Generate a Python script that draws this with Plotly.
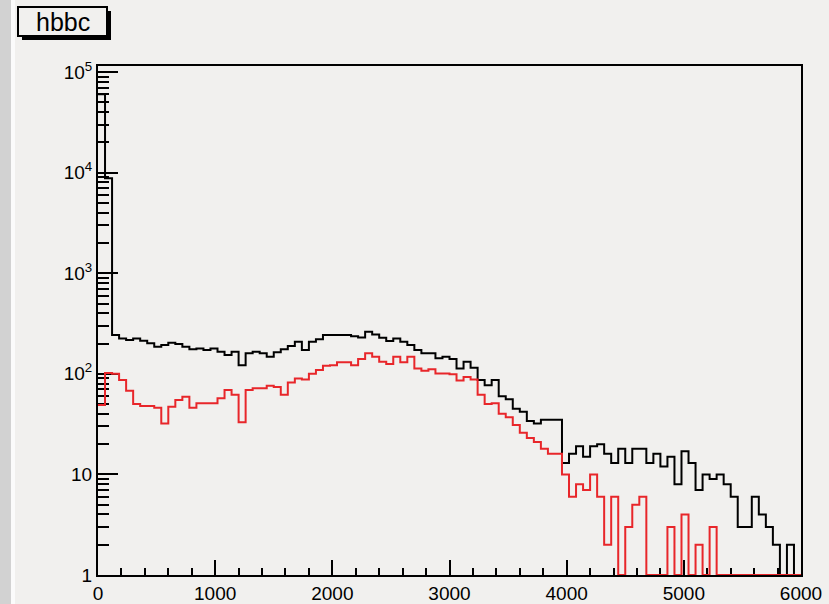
import numpy as np
import plotly.graph_objects as go

# ---------------- data ----------------
bin_low = 0
bin_high = 6000
n_bins = 100

black_counts = [
    60000, 8800, 243, 225, 217, 225, 213, 201, 186, 193,
    204, 198, 186, 175, 179, 172, 179, 166, 154, 166,
    122, 160, 166, 160, 148, 164, 175, 189, 208, 172,
    208, 220, 243, 243, 243, 243, 236, 230, 262, 246,
    228, 212, 225, 208, 193, 172, 160, 160, 143, 148,
    140, 113, 132, 115, 87, 77, 87, 60, 56, 45,
    42, 34, 32, 35, 35, 35, 13, 16, 19, 15,
    19, 20, 16, 13, 18, 13, 18, 18, 13, 16,
    12, 15, 8, 17, 13, 7, 10, 9, 10, 8,
    6, 3, 3, 6, 4, 3, 2, 0, 2, 0,
]

red_counts = [
    49, 102, 100, 87, 68, 50, 48, 48, 46, 32,
    47, 55, 59, 46, 51, 51, 51, 57, 69, 62,
    33, 69, 72, 72, 76, 74, 62, 82, 90, 88,
    100, 109, 120, 122, 130, 130, 122, 140, 160, 148,
    132, 125, 148, 130, 148, 113, 107, 111, 101, 101,
    99, 86, 93, 88, 62, 50, 51, 40, 37, 31,
    26, 23, 21, 18, 16, 16, 10, 6, 8, 7,
    10, 6, 2, 6, 0, 3, 5, 6, 0, 0,
    0, 3, 0, 4, 0, 2, 0, 3, 0, 0,
    0, 0, 0, 0, 0, 0, 0, 0, 0, 0,
]

x_tick_vals = [0, 1000, 2000, 3000, 4000, 5000, 6000]
x_tick_text = ["0", "1000", "2000", "3000", "4000", "5000", "6000"]
y_tick_vals = [1, 10, 100, 1000, 10000, 100000]
y_tick_text = ["1", "10", "10<sup>2</sup>", "10<sup>3</sup>", "10<sup>4</sup>", "10<sup>5</sup>"]
title_text = "hbbc"

# ---------------- layout constants ----------------
W, H = 829, 604
L, R, T, B = 98, 801, 66, 575
BG = "#f1f0ee"
y_log_min, y_log_max = 0.0, 5.06
y_floor = 10 ** y_log_min

edges = np.linspace(bin_low, bin_high, n_bins + 1)


def step_xy(counts):
    c = np.asarray(counts, dtype=float)
    c = np.where(c > 0, c, y_floor)
    return edges, np.append(c, c[-1])


def px(x):
    return (x - L) / (R - L)


def py(y):
    return (B - y) / (B - T)


fig = go.Figure()
bx, by = step_xy(black_counts)
rx, ry = step_xy(red_counts)
fig.add_trace(go.Scatter(x=bx, y=by, mode="lines", line=dict(color="#000000", width=2, shape="hv"),
                         cliponaxis=False, showlegend=False, hoverinfo="skip"))
fig.add_trace(go.Scatter(x=rx, y=ry, mode="lines", line=dict(color="#e8262a", width=2, shape="hv"),
                         cliponaxis=False, showlegend=False, hoverinfo="skip"))

fig.update_xaxes(
    range=[bin_low, bin_high], showgrid=False, zeroline=False, automargin=False,
    showline=True, linecolor="#000", linewidth=2, mirror=True,
    tickmode="array", tickvals=x_tick_vals, ticktext=x_tick_text,
    ticks="inside", ticklen=15, tickwidth=2, tickcolor="#000",
    minor=dict(ticks="inside", ticklen=7, tickwidth=2, tickcolor="#000", dtick=200, showgrid=False),
    tickfont=dict(family="Liberation Sans, Arial", size=19, color="#000"), layer="below traces",
)
fig.update_yaxes(
    type="log", range=[y_log_min, y_log_max], showgrid=False, zeroline=False, automargin=False,
    showline=True, linecolor="#000", linewidth=2, mirror=True,
    tickmode="array", tickvals=y_tick_vals, ticktext=y_tick_text,
    ticks="inside", ticklen=20, tickwidth=2, tickcolor="#000",
    minor=dict(ticks="inside", ticklen=11, tickwidth=2, tickcolor="#000", showgrid=False,
               tickvals=[m * 10 ** k for k in range(0, 5) for m in range(2, 10)]),
    tickfont=dict(family="Liberation Sans, Arial", size=19, color="#000"), layer="below traces",
)

shapes = [
    # left canvas border
    dict(type="rect", xref="paper", yref="paper", x0=px(0), x1=px(11), y0=py(H), y1=py(0),
         fillcolor="#d2d2d2", line=dict(width=0), layer="below"),
    dict(type="rect", xref="paper", yref="paper", x0=px(11), x1=px(15), y0=py(H), y1=py(0),
         fillcolor="#fbfbfb", line=dict(width=0), layer="below"),
    # title box shadow
    dict(type="rect", xref="paper", yref="paper", x0=px(22), x1=px(111), y0=py(40), y1=py(11),
         fillcolor="#000", line=dict(width=0), layer="above"),
    # title box
    dict(type="rect", xref="paper", yref="paper", x0=px(18), x1=px(107), y0=py(36), y1=py(7),
         fillcolor=BG, line=dict(color="#000", width=2), layer="above"),
]

fig.update_layout(
    width=W, height=H, margin=dict(l=L, r=W - R, t=T, b=H - B, pad=0),
    paper_bgcolor=BG, plot_bgcolor=BG, shapes=shapes, showlegend=False,
    annotations=[dict(text=title_text, xref="paper", yref="paper", x=px(62.5), y=py(21.5),
                      xanchor="center", yanchor="middle", showarrow=False,
                      font=dict(family="Liberation Sans, Arial", size=25, color="#000"))],
)

fig.write_html("out.html")
